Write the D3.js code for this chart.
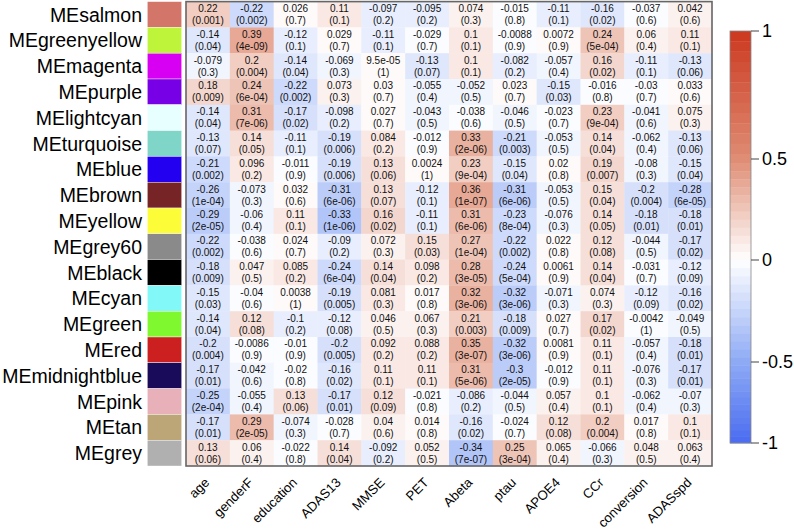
<!DOCTYPE html>
<html><head><meta charset="utf-8">
<script src="https://cdn.jsdelivr.net/npm/d3@7"></script>
<style>body{margin:0;background:#fff}svg{display:block}</style></head>
<body>
<svg id="c" width="794" height="532"></svg>
<script>
const modules = ["MEsalmon","MEgreenyellow","MEmagenta","MEpurple","MElightcyan","MEturquoise","MEblue","MEbrown","MEyellow","MEgrey60","MEblack","MEcyan","MEgreen","MEred","MEmidnightblue","MEpink","MEtan","MEgrey"];
const moduleColors = ["#d4756a","#bef53a","#d800f2","#7800e6","#e8ffff","#7fd6c8","#2400f0","#772426","#fcfc38","#8a8a8a","#000000","#82f8f8","#80f830","#cc1f1f","#1a0a5a","#e8b0b8","#bca678","#b0b0b0"];
const traits = ["age","genderF","education","ADAS13","MMSE","PET","Abeta","ptau","APOE4","CCr","conversion","ADASspd"];
const corValues = [
 [0.22,-0.22,0.026,0.11,-0.097,-0.095,0.074,-0.015,-0.11,-0.16,-0.037,0.042],
 [-0.14,0.39,-0.12,0.029,-0.11,-0.029,0.1,-0.0088,0.0072,0.24,0.06,0.11],
 [-0.079,0.2,-0.14,-0.069,9.5e-05,-0.13,0.1,-0.082,-0.057,0.16,-0.11,-0.13],
 [0.18,0.24,-0.22,0.073,0.03,-0.055,-0.052,0.023,-0.15,-0.016,-0.03,0.033],
 [-0.14,0.31,-0.17,-0.098,0.027,-0.043,-0.038,-0.046,-0.023,0.23,-0.041,0.075],
 [-0.13,0.14,-0.11,-0.19,0.084,-0.012,0.33,-0.21,-0.053,0.14,-0.062,-0.13],
 [-0.21,0.096,-0.011,-0.19,0.13,0.0024,0.23,-0.15,0.02,0.19,-0.08,-0.15],
 [-0.26,-0.073,0.032,-0.31,0.13,-0.12,0.36,-0.31,-0.053,0.15,-0.2,-0.28],
 [-0.29,-0.06,0.11,-0.33,0.16,-0.11,0.31,-0.23,-0.076,0.14,-0.18,-0.18],
 [-0.22,-0.038,0.024,-0.09,0.072,0.15,0.27,-0.22,0.022,0.12,-0.044,-0.17],
 [-0.18,0.047,0.085,-0.24,0.14,0.098,0.28,-0.24,0.0061,0.14,-0.031,-0.12],
 [-0.15,-0.04,0.0038,-0.19,0.081,0.017,0.32,-0.32,-0.071,0.074,-0.12,-0.16],
 [-0.14,0.12,-0.1,-0.12,0.046,0.067,0.21,-0.18,0.027,0.17,-0.0042,-0.049],
 [-0.2,-0.0086,-0.01,-0.2,0.092,0.088,0.35,-0.32,0.0081,0.11,-0.057,-0.18],
 [-0.17,-0.042,-0.02,-0.16,0.11,0.11,0.31,-0.3,-0.012,0.11,-0.076,-0.17],
 [-0.25,-0.055,0.13,-0.17,0.12,-0.021,-0.086,-0.044,0.057,0.1,-0.062,-0.07],
 [-0.17,0.29,-0.074,-0.028,0.04,0.014,-0.16,-0.024,0.12,0.2,0.017,0.1],
 [0.13,0.06,-0.022,0.14,-0.092,0.052,-0.34,0.25,0.065,-0.066,0.048,0.063]
];
const pValues = [
 [0.001,0.002,0.7,0.1,0.2,0.2,0.3,0.8,0.1,0.02,0.6,0.6],
 [0.04,4e-09,0.1,0.7,0.1,0.7,0.1,0.9,0.9,5e-04,0.4,0.1],
 [0.3,0.004,0.04,0.3,1,0.07,0.1,0.2,0.4,0.02,0.1,0.06],
 [0.009,6e-04,0.002,0.3,0.7,0.4,0.5,0.7,0.03,0.8,0.7,0.6],
 [0.04,7e-06,0.02,0.2,0.7,0.5,0.6,0.5,0.7,9e-04,0.6,0.3],
 [0.07,0.05,0.1,0.006,0.2,0.9,2e-06,0.003,0.5,0.04,0.4,0.06],
 [0.002,0.2,0.9,0.006,0.06,1,9e-04,0.04,0.8,0.007,0.3,0.04],
 [1e-04,0.3,0.6,6e-06,0.07,0.1,1e-07,6e-06,0.5,0.04,0.004,6e-05],
 [2e-05,0.4,0.1,1e-06,0.02,0.1,6e-06,8e-04,0.3,0.05,0.01,0.01],
 [0.002,0.6,0.7,0.2,0.3,0.03,1e-04,0.002,0.8,0.08,0.5,0.02],
 [0.009,0.5,0.2,6e-04,0.04,0.2,3e-05,5e-04,0.9,0.04,0.7,0.09],
 [0.03,0.6,1,0.005,0.3,0.8,3e-06,3e-06,0.3,0.3,0.09,0.02],
 [0.04,0.08,0.2,0.08,0.5,0.3,0.003,0.009,0.7,0.02,1,0.5],
 [0.004,0.9,0.9,0.005,0.2,0.2,3e-07,3e-06,0.9,0.1,0.4,0.01],
 [0.01,0.6,0.8,0.02,0.1,0.1,5e-06,2e-05,0.9,0.1,0.3,0.01],
 [2e-04,0.4,0.06,0.01,0.09,0.8,0.2,0.5,0.4,0.1,0.4,0.3],
 [0.01,2e-05,0.3,0.7,0.6,0.8,0.02,0.7,0.08,0.004,0.8,0.1],
 [0.06,0.4,0.8,0.04,0.2,0.5,7e-07,3e-04,0.4,0.3,0.5,0.4]
];
const legendTicks = [1, 0.5, 0, -0.5, -1];

// R-like number formatting (as.character of signif values)
function rfmt(v) {
  if (v === 0) return "0";
  const sign = v < 0 ? "-" : "";
  const a = Math.abs(v);
  const [mant, exS] = a.toExponential().split("e");
  const ex = +exS;
  const dAfter = mant.includes(".") ? mant.split(".")[1].length : 0;
  const fixed = a.toFixed(Math.max(0, dAfter - ex));
  const sci = mant + "e" + (ex < 0 ? "-" : "+") + String(Math.abs(ex)).padStart(2, "0");
  return sign + (sci.length < fixed.length ? sci : fixed);
}

const svg = d3.select("#c");
const font = "'Liberation Sans', Arial, Helvetica, sans-serif";

const x = d3.scaleBand().domain(traits).range([186, 712]);
const y = d3.scaleBand().domain(modules).range([1.6, 466]);

const lin = d3.scaleLinear().domain([-1, -0.5, 0, 0.5, 1])
  .range(["#4a6cf0", "#8eaaf5", "#ffffff", "#df8d74", "#cc3820"])
  .interpolate(d3.interpolateRgb);
const nCol = 50;
const bins = d3.range(nCol).map(i => lin(-1 + (i + 0.5) * 2 / nCol));
const color = d3.scaleQuantize().domain([-1, 1]).range(bins);

const cells = [];
modules.forEach((m, i) => traits.forEach((t, j) => cells.push({m, t, r: corValues[i][j], p: pValues[i][j]})));

const g = svg.append("g");
g.selectAll("rect.cell").data(cells).join("rect")
  .attr("class", "cell")
  .attr("x", d => x(d.t)).attr("y", d => y(d.m))
  .attr("width", x.bandwidth() + 0.3).attr("height", y.bandwidth() + 0.3)
  .attr("fill", d => color(d.r));

const tg = g.selectAll("text.cell").data(cells).join("text")
  .attr("class", "cell")
  .attr("font-family", font).attr("font-size", 10).attr("fill", "#111")
  .attr("text-anchor", "middle");
tg.append("tspan").attr("x", d => x(d.t) + x.bandwidth() / 2)
  .attr("y", d => y(d.m) + y.bandwidth() / 2 - 2.5).text(d => rfmt(d.r));
tg.append("tspan").attr("x", d => x(d.t) + x.bandwidth() / 2)
  .attr("y", d => y(d.m) + y.bandwidth() / 2 + 9.5).text(d => "(" + rfmt(d.p) + ")");

// frame
svg.append("rect").attr("x", x.range()[0]).attr("y", 1.6)
  .attr("width", x.range()[1] - x.range()[0]).attr("height", 466 - 1.6)
  .attr("fill", "none").attr("stroke", "#666").attr("stroke-width", 1.6);

// module colour swatches
svg.selectAll("rect.sw").data(modules).join("rect").attr("class", "sw")
  .attr("x", 147.3).attr("width", 34.4)
  .attr("y", d => y(d)).attr("height", y.bandwidth())
  .attr("fill", (d, i) => moduleColors[i])
  .attr("stroke", "#fff").attr("stroke-width", 0.4);

// row labels
svg.selectAll("text.row").data(modules).join("text").attr("class", "row")
  .attr("x", 142).attr("y", d => y(d) + y.bandwidth() / 2)
  .attr("dy", "0.36em").attr("text-anchor", "end")
  .attr("font-family", font).attr("font-size", 19.5).attr("fill", "#000")
  .text(d => d);

// column labels
svg.selectAll("text.col").data(traits).join("text").attr("class", "col")
  .attr("transform", d => `translate(${x(d) + x.bandwidth() / 2 - 1},480) rotate(-45)`)
  .attr("text-anchor", "end").attr("dy", "0.35em")
  .attr("font-family", font).attr("font-size", 13.2).attr("fill", "#000")
  .text(d => d);

// legend
const ly = d3.scaleLinear().domain([1, 0.5, 0, -0.5, -1]).range([31, 159, 260, 362, 443]);
const lx = 730, lw = 21;
const bandEdges = d3.range(nCol + 1).map(i => 1 - i * 2 / nCol);
svg.selectAll("rect.leg").data(bins.slice().reverse()).join("rect").attr("class", "leg")
  .attr("x", lx).attr("width", lw)
  .attr("y", (d, i) => ly(bandEdges[i]))
  .attr("height", (d, i) => ly(bandEdges[i + 1]) - ly(bandEdges[i]) + 0.4)
  .attr("fill", d => d);
svg.append("rect").attr("x", lx).attr("y", ly(1)).attr("width", lw).attr("height", ly(-1) - ly(1))
  .attr("fill", "none").attr("stroke", "#888").attr("stroke-width", 0.8);
const lt = svg.append("g").selectAll("g").data(legendTicks).join("g")
  .attr("transform", d => `translate(${lx + lw},${ly(d)})`);
lt.append("line").attr("x1", 0).attr("x2", 8).attr("stroke", "#444").attr("stroke-width", 1);
lt.append("text").attr("x", 11).attr("dy", "0.36em")
  .attr("font-family", font).attr("font-size", 18).attr("fill", "#000")
  .text(d => d3.format("")(d).replace("−", "-"));
</script>
</body></html>
